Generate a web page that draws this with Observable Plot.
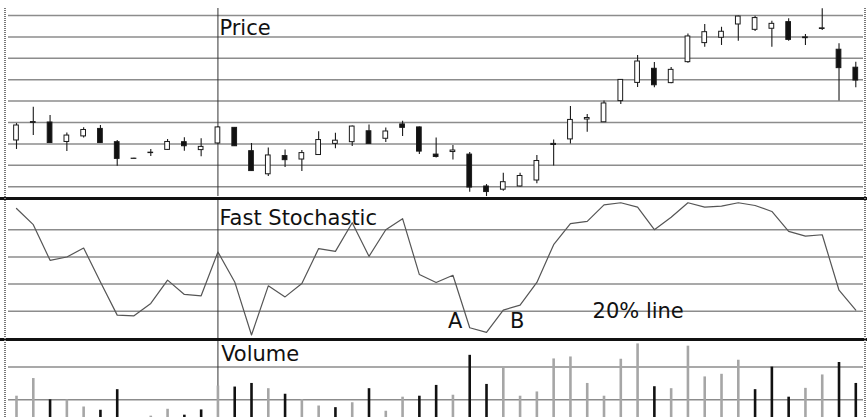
<!DOCTYPE html>
<html>
<head>
<meta charset="utf-8">
<script src="https://cdn.jsdelivr.net/npm/d3@7"></script>
<script src="https://cdn.jsdelivr.net/npm/@observablehq/plot@0.6"></script>
<style>
  html, body { margin: 0; padding: 0; background: #fff; overflow: hidden; }
  #chart { position: relative; width: 867px; height: 417px; overflow: hidden; font-family: "DejaVu Sans", sans-serif; }
  #chart svg { position: absolute; left: 0; overflow: visible; }
  .sep { position: absolute; left: 0; width: 867px; height: 3px; background: #111; }
  .ax { position: absolute; width: 2px; top: 8px; bottom: 0;
        background: repeating-linear-gradient(to bottom, #777 0px, #777 1px, transparent 1px, transparent 2px); }
</style>
</head>
<body>
<div id="chart"></div>
<script>
// ---- Data (51 trading days) ----
const open  = [22.16,22.98,23.00,22.09,22.35,22.70,22.08,21.30,21.57,21.72,22.08,21.71,22.02,22.75,21.66,20.58,21.43,21.27,21.48,22.00,22.08,22.59,22.24,22.91,22.77,21.50,21.62,21.50,20.01,19.86,20.01,20.29,21.95,22.21,23.14,23.01,24.00,24.85,25.51,24.84,25.82,26.71,26.96,27.58,27.33,27.38,27.69,26.94,27.37,26.40,25.56];
const high  = [22.95,23.71,23.33,22.51,22.75,22.86,22.16,21.33,21.74,22.21,22.29,22.24,22.81,22.77,22.02,21.81,21.72,21.69,22.57,22.50,22.84,22.88,22.74,23.06,22.79,22.28,21.93,21.60,20.10,20.63,20.63,21.46,22.18,23.75,23.37,24.00,25.01,26.13,25.80,25.57,27.14,27.58,27.45,27.98,27.97,27.73,27.85,27.11,28.31,26.68,25.82];
const low   = [21.74,22.39,22.02,21.64,22.28,22.02,20.96,21.29,21.41,21.69,21.66,21.40,22.00,21.88,20.71,20.48,20.90,20.71,21.46,21.77,21.88,22.00,22.07,22.35,21.50,21.34,21.25,19.74,19.54,19.79,19.99,20.14,20.97,22.00,22.55,23.00,23.84,24.64,24.62,24.81,25.77,26.52,26.60,26.80,27.25,26.52,26.80,26.60,27.30,24.00,24.62];
const close = [22.86,23.02,22.04,22.39,22.65,22.04,21.30,21.31,21.59,22.09,21.89,21.86,22.77,21.89,20.73,21.46,21.24,21.57,22.18,22.15,22.81,22.00,22.58,22.75,21.64,21.39,21.69,19.96,19.75,20.21,20.50,21.20,22.00,23.12,23.21,23.89,24.99,25.85,24.74,25.46,27.02,27.22,27.24,27.95,27.88,27.61,26.86,26.98,27.40,25.54,24.96];
const fastStochastic = [95.6,83.7,57.5,59.9,66.5,41.6,17.2,16.7,25.8,42.9,32.4,31.4,63.6,41.6,2.6,38.7,30.6,40.4,66.1,64.1,85.1,60.4,80.0,88.1,47.0,41.2,46.5,7.9,4.5,20.9,24.5,41.2,69.0,84.4,86.1,98.3,99.8,96.6,80.0,89.2,99.8,96.6,97.3,99.8,97.8,93.4,78.8,75.3,76.3,35.5,20.9];
const volume = [1.11,1.65,1.00,1.00,0.78,0.68,1.31,0.30,0.50,0.71,0.53,0.69,1.42,1.39,1.50,1.34,1.17,1.01,0.81,0.76,0.91,1.34,0.65,1.08,1.11,1.44,1.14,2.36,1.47,1.98,1.11,1.24,2.25,2.31,1.50,1.11,2.24,2.71,1.40,1.34,2.64,1.70,1.78,2.21,1.31,2.00,1.08,1.35,1.76,2.14,1.50];

const priceGrid = [20, 21, 22, 23, 24, 25, 26, 27, 28];
const stochGrid = [20, 40, 60, 80];
const volumeGrid = [1, 2];
const panelLabels = ["Price", "Fast Stochastic", "Volume"];
const markedDay = 12;           // vertical marker line
const noteLabels = ["A", "B", "20% line"];
const noteDays = [26, 30, 34];
const noteLevel = 20;           // 20% stochastic line

// ---- Derived tables ----
const candles = open.map((o, i) => ({i, open: o, high: high[i], low: low[i], close: close[i]}));
const stoch = fastStochastic.map((v, i) => ({i, v}));
const vols = volume.map((v, i) => ({i, v, up: i === 0 || close[i] >= close[i - 1]}));

const font = "DejaVu Sans";
const common = {
  width: 867, marginLeft: 8, marginRight: 4,
  x: {domain: [0, candles.length - 1], insetLeft: 8, insetRight: 7.7, axis: null},
  color: {type: "identity"},
  style: {fontFamily: font, background: "transparent", overflow: "visible"}
};
const gridStroke = "#8c8c8c";

const pricePlot = Plot.plot({
  ...common, height: 197, marginTop: 8, marginBottom: 1,
  y: {domain: [19.542, 28.327], axis: null},
  marks: [
    Plot.ruleY(priceGrid, {stroke: gridStroke, strokeWidth: 1.5}),
    Plot.ruleX([markedDay], {stroke: "#333", strokeWidth: 1}),
    Plot.ruleX(candles, {x: "i", y1: "low", y2: "high", stroke: "#1a1a1a", strokeWidth: 1.1}),
    Plot.rect(candles, {x1: d => d.i - 0.14, x2: d => d.i + 0.14, y1: "open", y2: "close",
      fill: d => d.close < d.open ? "#111" : "#fff", stroke: "#1a1a1a", strokeWidth: 1}),
    Plot.text([panelLabels[0]], {text: d => d, x: markedDay, frameAnchor: "top", textAnchor: "start",
      lineAnchor: "top", dx: 1.5, dy: 11.3, fontSize: 21, fill: "#111"})
  ]
});

const stochPlot = Plot.plot({
  ...common, height: 138, marginTop: 2, marginBottom: 0,
  y: {domain: [0, 100], axis: null},
  marks: [
    Plot.ruleY(stochGrid, {stroke: gridStroke, strokeWidth: 1.5}),
    Plot.ruleX([markedDay], {stroke: "#333", strokeWidth: 1, insetTop: -2}),
    Plot.line(stoch, {x: "i", y: "v", stroke: "#555", strokeWidth: 1.2}),
    Plot.text([panelLabels[1]], {text: d => d, x: markedDay, frameAnchor: "top", textAnchor: "start",
      lineAnchor: "top", dx: 1.5, dy: 8, fontSize: 21, fill: "#111"}),
    Plot.text([noteLabels[0]], {text: d => d, x: noteDays[0], y: noteLevel, textAnchor: "start",
      lineAnchor: "top", dx: -5, dy: 2.2, fontSize: 21, fill: "#111"}),
    Plot.text([noteLabels[1]], {text: d => d, x: noteDays[1], y: noteLevel, textAnchor: "start",
      lineAnchor: "top", dx: -10, dy: 2.2, fontSize: 21, fill: "#111"}),
    Plot.text([noteLabels[2]], {text: d => d, x: noteDays[2], y: noteLevel, textAnchor: "start",
      lineAnchor: "top", dx: 5.3, dy: -7.8, fontSize: 21, fill: "#111"})
  ]
});

const volPlot = Plot.plot({
  ...common, height: 91, marginTop: 0, marginBottom: 0,
  y: {domain: [0, 2.783], axis: null},
  marks: [
    Plot.ruleY(volumeGrid, {stroke: gridStroke, strokeWidth: 1.5}),
    Plot.ruleX([markedDay], {stroke: "#333", strokeWidth: 1}),
    Plot.ruleX(vols, {x: "i", y1: 0, y2: "v", stroke: d => d.up ? "#a6a6a6" : "#111", strokeWidth: 2.6}),
    Plot.text([panelLabels[2]], {text: d => d, x: markedDay, frameAnchor: "top", textAnchor: "start",
      lineAnchor: "top", dx: 3.2, dy: 5, fontSize: 21, fill: "#111"})
  ]
});

const chart = document.getElementById("chart");
pricePlot.style.top = "0px";
stochPlot.style.top = "200px";
volPlot.style.top = "341px";
chart.append(pricePlot, stochPlot, volPlot);

function addDiv(cls, css) {
  const d = document.createElement("div");
  d.className = cls;
  Object.assign(d.style, css);
  chart.append(d);
}
addDiv("sep", {top: "197px"});
addDiv("sep", {top: "338px"});
addDiv("ax", {left: "4px"});
addDiv("ax", {left: "864px"});
</script>
</body>
</html>
